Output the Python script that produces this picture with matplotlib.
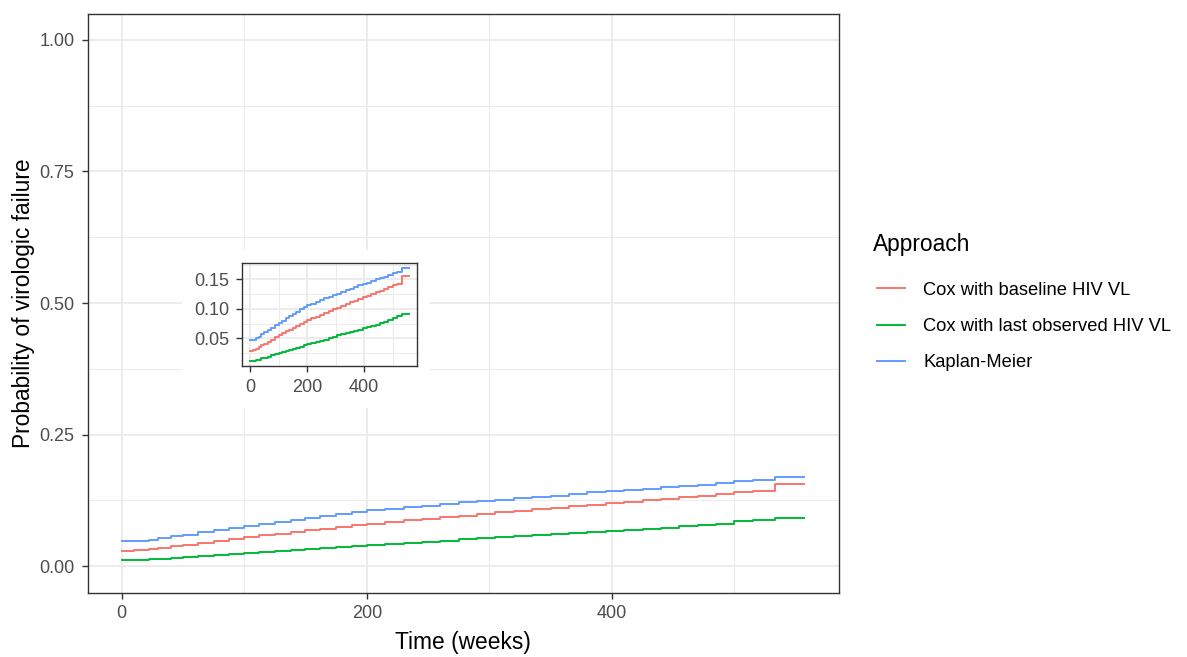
import numpy as np
import matplotlib
matplotlib.use("Agg")
import matplotlib.pyplot as plt
from matplotlib.ticker import MultipleLocator

plt.rcParams['font.family'] = ['Liberation Sans', 'DejaVu Sans']

# step times (weeks) and cumulative probability of virologic failure
weeks = [0, 10, 22, 30, 40, 50, 62, 75, 88, 100, 112, 125, 138, 150, 162, 175,
         188, 200, 215, 230, 245, 260, 275, 290, 305, 320, 335, 350, 365, 380,
         395, 410, 425, 440, 455, 470, 485, 500, 515, 533, 557]
cox_baseline = [0.028, 0.030, 0.032, 0.035, 0.038, 0.041, 0.044, 0.048, 0.052, 0.056,
                0.059, 0.062, 0.065, 0.068, 0.071, 0.075, 0.078, 0.081, 0.084, 0.087,
                0.090, 0.093, 0.096, 0.100, 0.102, 0.105, 0.108, 0.111, 0.114, 0.117,
                0.120, 0.122, 0.125, 0.128, 0.131, 0.134, 0.137, 0.140, 0.143, 0.156,
                0.156]
cox_last = [0.011, 0.011, 0.013, 0.014, 0.016, 0.017, 0.019, 0.021, 0.023, 0.025,
            0.026, 0.028, 0.030, 0.032, 0.034, 0.036, 0.038, 0.040, 0.042, 0.044,
            0.046, 0.048, 0.051, 0.053, 0.055, 0.057, 0.059, 0.061, 0.063, 0.065,
            0.067, 0.069, 0.071, 0.073, 0.076, 0.078, 0.081, 0.085, 0.088, 0.092,
            0.092]
kaplan_meier = [0.047, 0.047, 0.050, 0.053, 0.057, 0.060, 0.064, 0.068, 0.072, 0.076,
                0.080, 0.084, 0.088, 0.092, 0.095, 0.099, 0.103, 0.106, 0.109, 0.112,
                0.115, 0.118, 0.121, 0.124, 0.126, 0.129, 0.132, 0.134, 0.137, 0.140,
                0.142, 0.144, 0.147, 0.150, 0.153, 0.155, 0.158, 0.161, 0.163, 0.170,
                0.170]

labels = ["Cox with baseline HIV VL", "Cox with last observed HIV VL", "Kaplan-Meier"]
series = [cox_baseline, cox_last, kaplan_meier]
colors = ["#F8766D", "#00BA38", "#619CFF"]

W, H = 1187, 657
fig = plt.figure(figsize=(W / 100, H / 100), dpi=100)


def style(ax, fs):
    ax.set_facecolor("white")
    for s in ax.spines.values():
        s.set_color("#333333")
        s.set_linewidth(1.0)
    ax.grid(which="major", color="#EBEBEB", lw=1.3)
    ax.grid(which="minor", color="#EBEBEB", lw=0.7)
    ax.set_axisbelow(True)
    ax.tick_params(which="major", length=4.3, width=1.0, color="#333333",
                   labelsize=fs, labelcolor="#4D4D4D", pad=5)
    ax.tick_params(which="minor", length=0)


def draw(ax):
    for vals, lab, c in zip(series, labels, colors):
        ax.step(weeks, vals, where="post", color=c, lw=1.4, label=lab)


# main panel
ax = fig.add_axes([87.5 / W, (H - 592.5) / H, (838.5 - 87.5) / W, (592.5 - 13.5) / H])
draw(ax)
style(ax, 13)
ax.set_xlim(-27.85, 584.85)
ax.xaxis.set_major_locator(MultipleLocator(200))
ax.xaxis.set_minor_locator(MultipleLocator(100))
ax.set_yticks([0, 0.25, 0.5, 0.75, 1.0])
ax.set_yticklabels(["0.00", "0.25", "0.50", "0.75", "1.00"])
ax.yaxis.set_minor_locator(MultipleLocator(0.125))
ax.set_ylim(-0.05, 1.05)
ax.set_xlabel("Time (weeks)", fontsize=16.4, labelpad=6)
ax.set_ylabel("Probability of virologic failure", fontsize=16.4, labelpad=3)

# legend, title drawn separately
fig.text(873 / W, 1 - 244 / H, "Approach", fontsize=16.4, ha="left", va="center")
leg = ax.legend(loc="upper left", bbox_to_anchor=(873 / W, 1 - 278 / H),
                bbox_transform=fig.transFigure, frameon=False,
                fontsize=13.2, handlelength=1.55, borderaxespad=0, borderpad=0.2,
                handletextpad=1.0, labelspacing=1.05)

# white backing behind the inset
bg = fig.add_axes([182 / W, (H - 408) / H, (429 - 182) / W, (408 - 250) / H])
bg.set_facecolor("white")
bg.set_xticks([])
bg.set_yticks([])
for s in bg.spines.values():
    s.set_visible(False)

# inset zoomed on the curves
ins = fig.add_axes([242 / W, (H - 366) / H, (417 - 242) / W, (366 - 263) / H])
draw(ins)
style(ins, 13)
ins.set_xlim(-27.85, 584.85)
ins.xaxis.set_major_locator(MultipleLocator(200))
ins.xaxis.set_minor_locator(MultipleLocator(100))
ins.set_yticks([0.05, 0.10, 0.15])
ins.set_yticklabels(["0.05", "0.10", "0.15"])
ins.yaxis.set_minor_locator(MultipleLocator(0.025))
ins.set_ylim(0.003, 0.178)

fig.savefig("out.png", dpi=100)
